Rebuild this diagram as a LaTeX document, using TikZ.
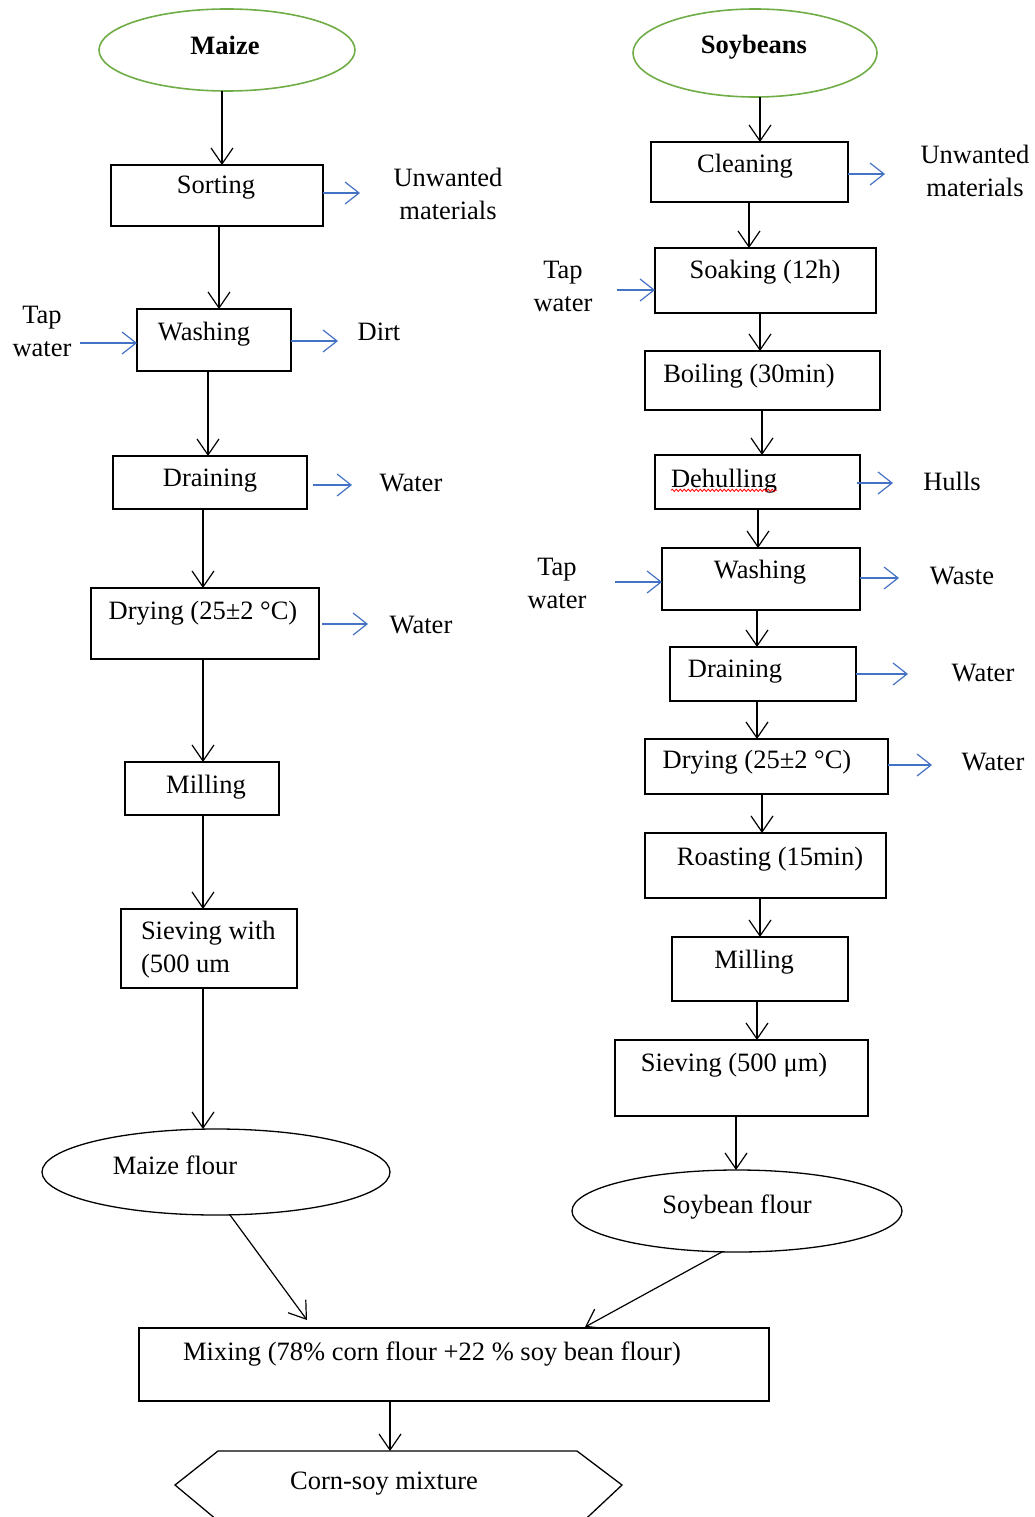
\documentclass[tikz,border=0pt]{standalone}
\usepackage{fontspec}
\setmainfont{Liberation Serif}
\usetikzlibrary{arrows.meta,shapes.geometric,fit,decorations.pathmorphing}
\definecolor{lgreen}{HTML}{70AD47}
\definecolor{ablue}{HTML}{4472C4}
\newcommand\dn[3]{\coordinate (tmpx) at (#3,0); \draw[arr] (#1.south -| tmpx) -- (#2.north -| tmpx);}
\begin{document}
\begin{tikzpicture}[x=1pt,y=-1pt,
  every node/.style={font=\fontsize{26.5}{33}\selectfont, inner sep=0pt, outer sep=0pt},
  box/.style={draw, line width=1.3pt, rectangle, inner sep=0pt},
  ell/.style={draw, line width=1.3pt, ellipse, inner sep=0pt},
  gell/.style={ell, draw=lgreen, line width=1.6pt},
  arr/.style={line width=1.2pt, -{Straight Barb[length=16pt,width=22pt]}},
  barr/.style={ablue, line width=1.2pt, -{Straight Barb[length=14pt,width=22pt]}},
  lbl/.style={align=center}]
\useasboundingbox (0,0) rectangle (1035,1517);
\fill[white] (0,0) rectangle (1035,1517);

% ---------- left column ----------
\node[gell, minimum width=256pt, minimum height=82pt] (maize) at (227,50) {};
\node[font=\fontsize{26.5}{33}\selectfont\bfseries] (maizeT) at (225,45) {Maize};
\node[box, fit={(111,165) (323,226)}] (sort) {};
\node (sortT) at (216,188) {Sorting};
\node[lbl] (unw1) at (448,194) {Unwanted\\materials};
\node[box, fit={(137,309) (291,371)}] (wash1) {};
\node (wash1T) at (204,334) {Washing};
\node[lbl] (tap1) at (42,331) {Tap\\water};
\node (dirt) at (379,332) {Dirt};
\node[box, fit={(113,456) (307,509)}] (drain1) {};
\node (drain1T) at (210,481) {Draining};
\node (water1) at (411,483) {Water};
\node[box, fit={(91,588) (319,659)}] (dry1) {};
\node (dry1T) at (203,613) {Drying (25±2 °C)};
\node (water2) at (421,625) {Water};
\node[box, fit={(125,762) (279,815)}] (mill1) {};
\node (mill1T) at (206,787) {Milling};
\node[box, fit={(121,909) (297,988)}] (sieve1) {};
\node[anchor=west, align=left] (sieve1T) at (141,950) {Sieving with\\(500 um};
\node[ell, minimum width=348pt, minimum height=86pt] (mflour) at (216,1172) {};
\node (mflourT) at (175,1165) {Maize flour};

% ---------- right column ----------
\node[gell, minimum width=244pt, minimum height=88pt] (soy) at (755,53) {};
\node[font=\fontsize{26.5}{33}\selectfont\bfseries] (soyT) at (754,47) {Soybeans};
\node[box, fit={(651,142) (848,202)}] (clean) {};
\node (cleanT) at (745,166) {Cleaning};
\node[lbl] (unw2) at (975,171) {Unwanted\\materials};
\node[box, fit={(655,248) (876,313)}] (soak) {};
\node (soakT) at (765,272) {Soaking (12h)};
\node[lbl] (tap2) at (563,286) {Tap\\water};
\node[box, fit={(645,351) (880,410)}] (boil) {};
\node (boilT) at (749,376) {Boiling (30min)};
\node[box, fit={(655,455) (860,509)}] (dehull) {};
\node (dehullT) at (724,481) {Dehulling};
\draw[red, line width=0.8pt, decorate, decoration={snake, amplitude=1.2pt, segment length=4pt}]
  ([yshift=-3pt]dehullT.base west) -- ([yshift=-3pt]dehullT.base east);
\node (hulls) at (952,481) {Hulls};
\node[box, fit={(662,548) (860,610)}] (wash2) {};
\node (wash2T) at (760,572) {Washing};
\node[lbl] (tap3) at (557,583) {Tap\\water};
\node (waste) at (962,576) {Waste};
\node[box, fit={(670,647) (856,701)}] (drain2) {};
\node (drain2T) at (735,672) {Draining};
\node (water3) at (983,673) {Water};
\node[box, fit={(645,739) (888,794)}] (dry2) {};
\node (dry2T) at (757,762) {Drying (25±2 °C)};
\node (water4) at (993,762) {Water};
\node[box, fit={(645,833) (886,898)}] (roast) {};
\node (roastT) at (770,859) {Roasting (15min)};
\node[box, fit={(672,937) (848,1001)}] (mill2) {};
\node (mill2T) at (754,962) {Milling};
\node[box, fit={(615,1040) (868,1116)}] (sieve2) {};
\node (sieve2T) at (734,1065) {Sieving (500 μm)};
\node[ell, minimum width=330pt, minimum height=82pt] (sflour) at (737,1211) {};
\node (sflourT) at (737,1207) {Soybean flour};

% ---------- bottom ----------
\node[box, fit={(139,1328) (769,1401)}] (mix) {};
\node (mixT) at (432,1354) {Mixing (78\% corn flour +22 \% soy bean flour)};
\begin{scope}
\clip (0,0) rectangle (1035,1517);
\draw[line width=1.3pt] (229,1530) -- (175,1485) -- (218,1451) -- (577,1451) -- (622,1485) -- (574,1530);
\end{scope}
\coordinate (hextop) at (390,1451);
\node (cornT) at (384,1484) {Corn-soy mixture};

% ---------- black flow arrows ----------
\dn{maize}{sort}{222}
\dn{sort}{wash1}{219}
\dn{wash1}{drain1}{208}
\dn{drain1}{dry1}{203}
\dn{dry1}{mill1}{203}
\dn{mill1}{sieve1}{203}
\dn{sieve1}{mflour}{203}
\dn{soy}{clean}{760}
\dn{clean}{soak}{749}
\dn{soak}{boil}{760}
\dn{boil}{dehull}{762}
\dn{dehull}{wash2}{758}
\dn{wash2}{drain2}{757}
\dn{drain2}{dry2}{757}
\dn{dry2}{roast}{762}
\dn{roast}{mill2}{760}
\dn{mill2}{sieve2}{757}
\dn{sieve2}{sflour}{736}
\coordinate (m1) at (307,0);
\coordinate (m2) at (585,0);
\draw[arr] (mflour.-72) -- ([yshift=8pt]mix.north -| m1);
\draw[arr] (sflour.-110) -- ([yshift=1pt]mix.north -| m2);
\coordinate (m3) at (390,0);
\draw[arr] (mix.south -| m3) -- (hextop);

% ---------- blue side arrows ----------
\coordinate (e1) at (360,193);  \draw[barr] (sort.east |- e1) -- (e1);
\coordinate (s2) at (80,343);   \draw[barr] (s2) -- (wash1.west |- s2);
\coordinate (e2) at (338,341);  \draw[barr] (wash1.east |- e2) -- (e2);
\coordinate (s3) at (313,485);  \coordinate (e3) at (352,485); \draw[barr] (s3) -- (e3);
\coordinate (s4) at (322,624);  \coordinate (e4) at (368,624); \draw[barr] (s4) -- (e4);
\coordinate (e5) at (885,174);  \draw[barr] (clean.east |- e5) -- (e5);
\coordinate (s6) at (617,290);  \draw[barr] (s6) -- (soak.west |- s6);
\coordinate (s7) at (857,483);  \coordinate (e7) at (893,483); \draw[barr] (s7) -- (e7);
\coordinate (s8) at (615,582);  \draw[barr] (s8) -- (wash2.west |- s8);
\coordinate (e9) at (899,578);  \draw[barr] (wash2.east |- e9) -- (e9);
\coordinate (e10) at (908,674); \draw[barr] (drain2.east |- e10) -- (e10);
\coordinate (e11) at (932,765); \draw[barr] (dry2.east |- e11) -- (e11);
\end{tikzpicture}
\end{document}
